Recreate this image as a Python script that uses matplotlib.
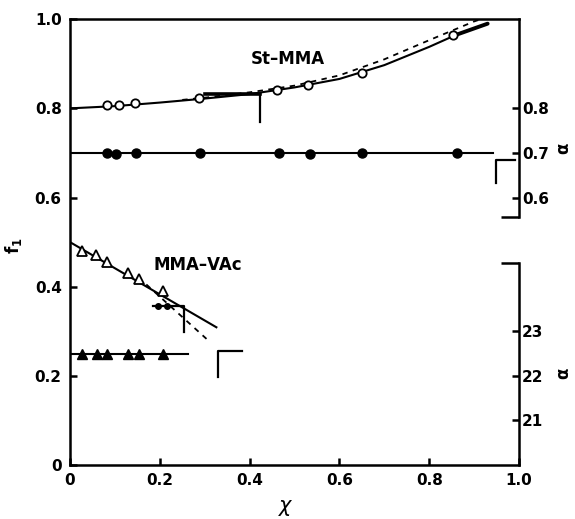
import numpy as np
import matplotlib
matplotlib.use('Agg')
import matplotlib.pyplot as plt
from matplotlib.ticker import FixedLocator

# St-MMA: f1 (open circles) and alpha (filled circles) vs conversion
st_x = [0.082, 0.109, 0.145, 0.287, 0.461, 0.530, 0.650, 0.853]
st_f1 = [0.807, 0.807, 0.812, 0.823, 0.841, 0.852, 0.879, 0.964]
st_ax = [0.082, 0.102, 0.147, 0.290, 0.465, 0.535, 0.650, 0.862]
st_alpha = [0.700, 0.697, 0.700, 0.700, 0.700, 0.698, 0.700, 0.700]
st_alpha_line_x = [0.0, 0.942]

# St-MMA calculated curves
st_solid_x = [0.0, 0.1, 0.2, 0.3, 0.4, 0.5, 0.6, 0.7, 0.8, 0.86]
st_solid_f = [0.800, 0.805, 0.813, 0.822, 0.832, 0.847, 0.866, 0.897, 0.938, 0.965]
st_thick_x = [0.86, 0.93]
st_thick_f = [0.965, 0.990]
st_dash_x = [0.25, 0.3, 0.4, 0.5, 0.6, 0.7, 0.8, 0.9, 0.915]
st_dash_f = [0.819, 0.824, 0.836, 0.851, 0.874, 0.910, 0.953, 0.995, 1.0]

# MMA-VAc: f1 (open triangles) and alpha (filled triangles)
mv_x = [0.027, 0.058, 0.082, 0.129, 0.154, 0.207]
mv_f1 = [0.480, 0.471, 0.455, 0.430, 0.417, 0.390]
mv_ax = [0.027, 0.060, 0.083, 0.129, 0.154, 0.207]
mv_alpha = [22.5, 22.5, 22.5, 22.5, 22.5, 22.5]
mv_alpha_line_x = [0.0, 0.263]
mv_solid_x = [0.0, 0.326]
mv_solid_f = [0.500, 0.309]
mv_dash_x = [0.17, 0.304]
mv_dash_f = [0.405, 0.283]

# small bracket marks drawn on the original
st_mark_x = [0.30, 0.423, 0.423]
st_mark_f = [0.833, 0.833, 0.769]
mv_mark_x = [0.185, 0.254, 0.254]
mv_mark_f = [0.357, 0.357, 0.298]
mv_mark_dots_x = [0.197, 0.217]
mv_mark_dots_f = [0.357, 0.357]
low_brk_x = [0.330, 0.330, 0.384]
low_brk_f = [0.197, 0.256, 0.256]
up_brk_x = [0.949, 0.949, 0.990]
up_brk_f = [0.632, 0.684, 0.684]

xticks = [0, 0.2, 0.4, 0.6, 0.8, 1.0]
xlabels = ['0', '0.2', '0.4', '0.6', '0.8', '1.0']
yticks = [0, 0.2, 0.4, 0.6, 0.8, 1.0]
ylabels = ['0', '0.2', '0.4', '0.6', '0.8', '1.0']
up_alpha_ticks = [0.6, 0.7, 0.8]
up_alpha_labels = ['0.6', '0.7', '0.8']
low_alpha_ticks = [21, 22, 23]
low_alpha_labels = ['21', '22', '23']


def up_a2f(a):
    return a


def low_f2a(f):
    return 22 + (np.asarray(f) - 0.2) * 10


def low_a2f(a):
    return 0.2 + (np.asarray(a) - 22) / 10


plt.rcParams['font.family'] = ['DejaVu Sans']
plt.rcParams['font.weight'] = 'bold'

fig = plt.figure(figsize=(5.75, 5.19), dpi=100)
ax = fig.add_axes([0.1217, 0.104, 0.781, 0.859])
lw = 1.5
sw = 1.8

ax.plot(st_solid_x, st_solid_f, color='k', lw=lw)
ax.plot(st_thick_x, st_thick_f, color='k', lw=2.8, solid_capstyle='round')
ax.plot(st_dash_x, st_dash_f, color='k', lw=1.3, ls=(0, (3, 3)))
ax.plot(st_x, st_f1, 'o', ms=6, mfc='white', mec='k', mew=1.3)
ax.plot(st_alpha_line_x, [up_a2f(0.70)] * 2, color='k', lw=lw)
ax.plot(st_ax, up_a2f(np.array(st_alpha)), 'o', ms=6.5, color='k')

ax.plot(mv_solid_x, mv_solid_f, color='k', lw=lw)
ax.plot(mv_dash_x, mv_dash_f, color='k', lw=1.3, ls=(0, (3, 3)))
ax.plot(mv_x, mv_f1, '^', ms=7.5, mfc='white', mec='k', mew=1.3)
ax.plot(mv_alpha_line_x, low_a2f([22.5, 22.5]), color='k', lw=lw)
ax.plot(mv_ax, low_a2f(mv_alpha), '^', ms=7, color='k')

ax.plot(st_mark_x[:2], st_mark_f[:2], color='k', lw=2.6)
ax.plot(st_mark_x[1:], st_mark_f[1:], color='k', lw=1.6)
ax.plot(mv_mark_x, mv_mark_f, color='k', lw=1.6)
ax.plot(mv_mark_dots_x, mv_mark_dots_f, 'o', ms=4, color='k')
ax.plot(low_brk_x, low_brk_f, color='k', lw=1.6)
ax.plot(up_brk_x, up_brk_f, color='k', lw=1.6)

ax.set_xlim(0, 1.0)
ax.set_ylim(0, 1.0)
ax.set_xticks(xticks, xlabels)
ax.set_yticks(yticks, ylabels)
ax.tick_params(direction='in', length=5, width=sw, labelsize=11, pad=6)
ax.spines['right'].set_visible(False)
for s in ['left', 'top', 'bottom']:
    ax.spines[s].set_linewidth(sw)

# right hand alpha scales
sec_up = ax.secondary_yaxis('right', functions=(lambda y: y, lambda y: y))
sec_up.spines['right'].set_bounds(0.556, 1.0)
sec_up.spines['right'].set_linewidth(sw)
sec_up.set_yticks(up_alpha_ticks, up_alpha_labels)
sec_up.yaxis.set_minor_locator(FixedLocator([0.556]))
sec_up.tick_params(direction='in', length=5, width=sw, labelsize=11, pad=2)
sec_up.tick_params(which='minor', direction='in', length=13, width=sw)

sec_low = ax.secondary_yaxis('right', functions=(low_f2a, low_a2f))
sec_low.spines['right'].set_bounds(low_f2a(0.0), low_f2a(0.453))
sec_low.spines['right'].set_linewidth(sw)
sec_low.set_yticks(low_alpha_ticks, low_alpha_labels)
sec_low.yaxis.set_minor_locator(FixedLocator([float(low_f2a(0.453))]))
sec_low.tick_params(direction='in', length=5, width=sw, labelsize=11, pad=2)
sec_low.tick_params(which='minor', direction='in', length=13, width=sw)

ax.text(1.098, 0.71, 'α', rotation=90, fontsize=12, ha='center', va='center',
        transform=ax.get_yaxis_transform())
ax.text(1.098, 0.206, 'α', rotation=90, fontsize=12, ha='center', va='center',
        transform=ax.get_yaxis_transform())

ax.text(0.484, 0.91, 'St\u2013MMA', fontsize=12, fontweight='bold', ha='center', va='center')
ax.text(0.285, 0.448, 'MMA\u2013VAc', fontsize=12, fontweight='bold', ha='center', va='center')

# axis titles
ax.text(0.48, -0.092, 'χ', fontsize=15, fontstyle='italic', fontweight='normal',
        ha='center', va='center', transform=ax.transAxes)
ax.text(-0.125, 0.493, 'f$_1$', fontsize=12, fontweight='bold', rotation=90,
        ha='center', va='center', transform=ax.transAxes)

fig.savefig('out.png', dpi=100)
